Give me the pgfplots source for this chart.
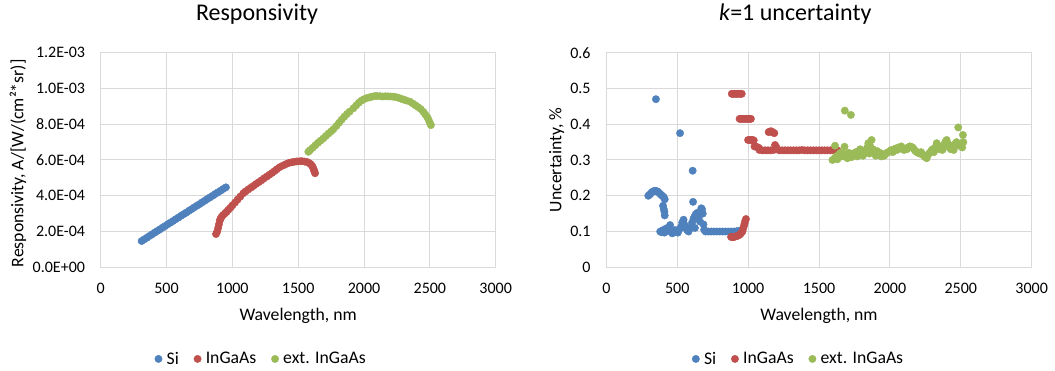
\documentclass[border=0pt]{standalone}
\usepackage{fontspec}
\setmainfont{Carlito}
\usepackage{pgfplots}
\pgfplotsset{compat=1.18}
\definecolor{siblue}{HTML}{4F81BD}
\definecolor{inred}{HTML}{C0504D}
\definecolor{extgreen}{HTML}{9BBB59}
\definecolor{gridgray}{HTML}{D9D9D9}
\pgfplotsset{
 excel/.style={
  scale only axis,
  anchor=south west,
  xmin=0,xmax=3000,
  xtick={0,500,1000,1500,2000,2500,3000},
  xticklabels={0,500,1000,1500,2000,2500,3000},
  axis line style={draw=gridgray, line width=1pt},
  grid=major,
  major grid style={draw=gridgray, line width=1pt},
  major tick length=0pt,
  tick label style={font=\fontsize{16}{19}\selectfont},
  xticklabel style={anchor=base, yshift=-26.7pt},
  yticklabel style={anchor=east, inner sep=0pt, xshift=-15.5pt},
  label style={font=\fontsize{17.7}{21}\selectfont},
  xlabel style={at={(axis description cs:0.5,0)}, anchor=base, yshift=-53.2pt},
  title style={font=\fontsize{24}{28}\selectfont, anchor=base, yshift=26pt},
  legend style={draw=none, fill=none, anchor=center, font=\fontsize{17.7}{21}\selectfont,
    nodes={inner sep=1pt},
    /tikz/every odd column/.append style={column sep=3.5pt},
    /tikz/every even column/.append style={column sep=14pt}},
  legend columns=3,
  legend image code/.code={\draw[##1, mark size=3.7pt] plot coordinates {(0pt,0pt)};},
  every axis plot/.append style={only marks, mark=*, mark size=3.7pt},
 }
}
\begin{document}
\begin{tikzpicture}
\begin{axis}[excel,
  at={(100.7pt,103.7pt)}, width=395pt, height=214.6pt,
  ymin=0, ymax=1.2e-3, scaled y ticks=false,
  ytick={0,2e-4,4e-4,6e-4,8e-4,1e-3,1.2e-3},
  yticklabels={0.0E+00,2.0E-04,4.0E-04,6.0E-04,8.0E-04,1.0E-03,1.2E-03},
  title={Responsivity},
  title style={at={(axis description cs:0.3957,1)}},
  xlabel={Wavelength, nm},
  ylabel={Responsivity, A/[W/(cm²*sr)]},
  ylabel style={at={(axis description cs:-0.196,0.485)}, anchor=base},
  legend style={at={(axis description cs:0.4053,-0.427)}},
]
\addplot[siblue] table {
311 1.47e-4
330 1.56e-4
350 1.65e-4
370 1.75e-4
390 1.84e-4
410 1.94e-4
430 2.03e-4
450 2.12e-4
470 2.22e-4
490 2.31e-4
510 2.41e-4
530 2.50e-4
550 2.59e-4
570 2.69e-4
590 2.78e-4
610 2.88e-4
630 2.97e-4
650 3.06e-4
670 3.16e-4
690 3.25e-4
710 3.35e-4
730 3.44e-4
750 3.53e-4
770 3.63e-4
790 3.72e-4
810 3.82e-4
830 3.91e-4
850 4.00e-4
870 4.10e-4
890 4.19e-4
910 4.28e-4
930 4.38e-4
951 4.47e-4
};
\addplot[inred] table {
876 1.86e-4
885 2.00e-4
892 2.20e-4
898 2.40e-4
904 2.60e-4
910 2.72e-4
919 2.83e-4
930 2.92e-4
945 3.02e-4
957 3.11e-4
970 3.22e-4
985 3.33e-4
1000 3.46e-4
1020 3.62e-4
1040 3.79e-4
1060 3.95e-4
1083 4.14e-4
1100 4.24e-4
1120 4.35e-4
1140 4.45e-4
1160 4.55e-4
1180 4.66e-4
1200 4.76e-4
1220 4.86e-4
1240 4.97e-4
1261 5.07e-4
1280 5.17e-4
1300 5.27e-4
1320 5.38e-4
1337 5.48e-4
1360 5.60e-4
1387 5.70e-4
1410 5.78e-4
1430 5.84e-4
1450 5.87e-4
1470 5.90e-4
1490 5.92e-4
1514 5.93e-4
1530 5.93e-4
1550 5.91e-4
1570 5.88e-4
1585 5.82e-4
1595 5.76e-4
1605 5.68e-4
1612 5.58e-4
1618 5.47e-4
1623 5.36e-4
1628 5.26e-4
};
\addplot[extgreen] table {
1577 6.46e-4
1590 6.55e-4
1610 6.68e-4
1630 6.82e-4
1650 6.96e-4
1670 7.08e-4
1690 7.20e-4
1710 7.34e-4
1730 7.48e-4
1750 7.60e-4
1767 7.72e-4
1790 7.90e-4
1810 8.08e-4
1830 8.25e-4
1850 8.42e-4
1870 8.57e-4
1890 8.70e-4
1919 8.89e-4
1940 9.05e-4
1960 9.20e-4
1980 9.32e-4
2000 9.40e-4
2020 9.46e-4
2040 9.50e-4
2060 9.54e-4
2080 9.57e-4
2096 9.58e-4
2120 9.57e-4
2140 9.55e-4
2160 9.56e-4
2180 9.56e-4
2200 9.55e-4
2222 9.54e-4
2240 9.52e-4
2260 9.48e-4
2280 9.43e-4
2300 9.38e-4
2320 9.33e-4
2349 9.26e-4
2370 9.16e-4
2390 9.06e-4
2410 8.96e-4
2430 8.85e-4
2450 8.70e-4
2465 8.55e-4
2480 8.40e-4
2490 8.25e-4
2500 8.08e-4
2508 7.95e-4
};
\legend{Si,InGaAs,ext. InGaAs}
\end{axis}
\begin{axis}[excel,
  at={(606.3pt,103.7pt)}, width=425.4pt, height=214.6pt,
  ymin=0, ymax=0.6,
  ytick={0,0.1,0.2,0.3,0.4,0.5,0.6},
  yticklabels={0,0.1,0.2,0.3,0.4,0.5,0.6},
  title={\textit{k}=1 uncertainty},
  title style={at={(axis description cs:0.4443,1)}},
  xlabel={Wavelength, nm},
  ylabel={Uncertainty, \%},
  ylabel style={at={(axis description cs:-0.1055,0.5)}, anchor=base},
  legend style={at={(axis description cs:0.451,-0.427)}},
]
\addplot[siblue] table {
296 0.200
305 0.203
315 0.207
325 0.211
335 0.213
345 0.214
355 0.213
365 0.211
375 0.207
385 0.203
395 0.200
405 0.196
412 0.190
350 0.470
400 0.172
405 0.163
410 0.155
412 0.145
380 0.100
390 0.098
400 0.104
410 0.097
420 0.108
430 0.102
440 0.112
450 0.118
455 0.100
465 0.095
475 0.098
485 0.104
495 0.100
505 0.097
515 0.106
520 0.375
525 0.112
535 0.125
545 0.133
550 0.120
560 0.110
570 0.104
580 0.100
590 0.108
600 0.115
605 0.125
609 0.270
612 0.183
615 0.135
620 0.140
625 0.110
630 0.148
640 0.152
650 0.140
660 0.128
665 0.155
670 0.165
675 0.162
680 0.150
685 0.120
690 0.105
700 0.100
720 0.100
740 0.100
760 0.100
780 0.100
800 0.100
820 0.100
840 0.100
860 0.100
880 0.100
900 0.100
920 0.101
940 0.102
950 0.103
};
\addplot[inred] table {
880 0.085
890 0.084
900 0.085
910 0.086
920 0.087
930 0.089
940 0.091
950 0.095
960 0.100
965 0.108
970 0.115
975 0.122
980 0.130
985 0.135
885 0.485
895 0.485
905 0.485
915 0.485
925 0.485
935 0.485
945 0.485
955 0.485
940 0.415
950 0.415
960 0.415
970 0.415
980 0.415
990 0.415
1000 0.415
1010 0.415
1020 0.415
1000 0.356
1010 0.356
1020 0.356
1030 0.356
1040 0.355
1045 0.338
1055 0.337
1065 0.336
1075 0.334
1080 0.328
1100 0.327
1120 0.327
1145 0.378
1155 0.380
1165 0.380
1175 0.377
1185 0.375
1190 0.342
1200 0.335
1140 0.327
1160 0.327
1180 0.328
1220 0.327
1240 0.327
1260 0.327
1280 0.327
1300 0.327
1320 0.327
1340 0.327
1360 0.327
1380 0.328
1400 0.327
1420 0.327
1440 0.327
1460 0.327
1480 0.327
1500 0.327
1520 0.327
1540 0.327
1560 0.327
1580 0.327
1600 0.327
1620 0.327
1630 0.327
};
\addplot[extgreen] table {
1595 0.300
1613 0.340
1610 0.305
1620 0.310
1630 0.302
1640 0.315
1650 0.320
1660 0.310
1670 0.318
1680 0.337
1682 0.438
1690 0.312
1700 0.305
1710 0.320
1725 0.426
1720 0.310
1730 0.308
1740 0.318
1750 0.315
1760 0.322
1770 0.310
1780 0.325
1790 0.330
1800 0.318
1810 0.312
1820 0.320
1830 0.325
1840 0.335
1848 0.347
1855 0.318
1860 0.340
1871 0.356
1880 0.330
1890 0.320
1900 0.312
1910 0.325
1920 0.315
1930 0.320
1940 0.310
1950 0.315
1960 0.312
1970 0.318
1980 0.320
1990 0.322
2000 0.325
2010 0.328
2020 0.322
2030 0.330
2040 0.332
2050 0.328
2060 0.335
2070 0.333
2080 0.338
2090 0.330
2100 0.328
2110 0.332
2120 0.330
2130 0.335
2140 0.338
2150 0.337
2160 0.335
2170 0.330
2180 0.325
2190 0.322
2200 0.320
2210 0.318
2220 0.322
2230 0.315
2240 0.312
2250 0.308
2259 0.305
2270 0.315
2280 0.320
2290 0.325
2300 0.330
2310 0.322
2320 0.335
2330 0.347
2340 0.340
2350 0.330
2360 0.335
2370 0.328
2380 0.340
2390 0.350
2400 0.356
2410 0.345
2420 0.335
2430 0.330
2440 0.340
2450 0.328
2460 0.345
2470 0.350
2482 0.391
2490 0.340
2500 0.345
2510 0.335
2515 0.370
2518 0.350
};
\legend{Si,InGaAs,ext. InGaAs}
\end{axis}
\pgfresetboundingbox
\path[use as bounding box] (0,0) rectangle (1055pt,371pt);
\end{tikzpicture}
\end{document}
